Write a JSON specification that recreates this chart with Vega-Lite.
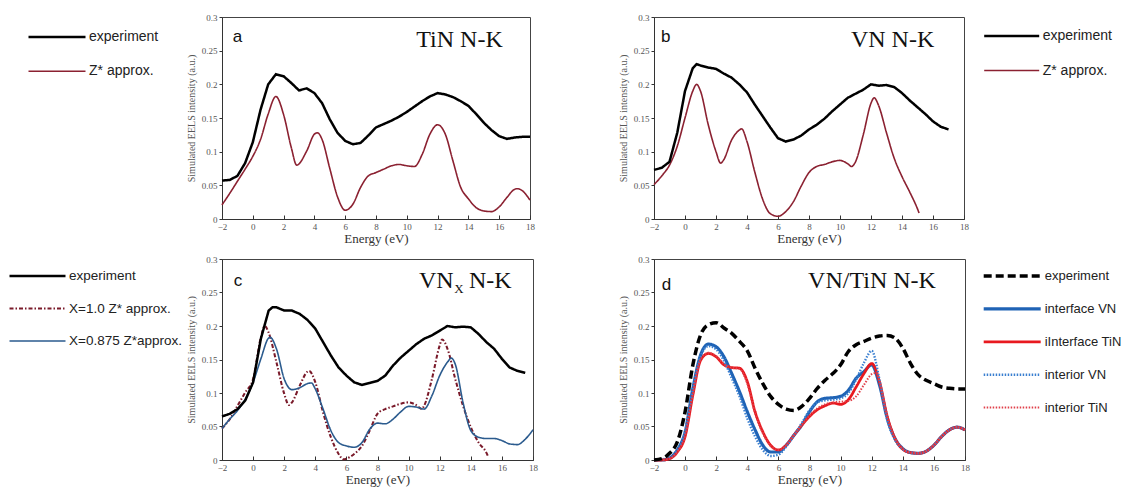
{
  "$schema": "https://vega.github.io/schema/vega-lite/v6.json",
  "background": "white",
  "autosize": {"type": "pad"},
  "padding": {"left": 7, "top": 12, "right": 0, "bottom": 0},
  "columns": 2,
  "bounds": "flush",
  "spacing": {"row": 40, "column": 121},
  "resolve": {"scale": {"color": "independent", "strokeDash": "independent", "strokeWidth": "independent"}},
  "config": {
    "view": {"stroke": "#444", "strokeWidth": 1},
    "axis": {"grid": false, "labelFont": "Liberation Serif", "labelFontSize": 9, "labelColor": "#555", "domainColor": "#333", "tickColor": "#333", "titleFont": "Liberation Serif", "titleFontWeight": "normal", "labelFlush": false, "labelOverlap": false},
    "axisX": {"tickSize": -4, "labelPadding": 7, "titleFontSize": 13, "titleColor": "#333", "titlePadding": 1},
    "axisY": {"tickSize": 3, "labelPadding": 2, "titleFontSize": 10, "titleColor": "#555", "titlePadding": 5},
    "legend": {"symbolType": "stroke", "clipHeight": 20, "labelOffset": 2, "labelFont": "Liberation Sans", "labelColor": "#222", "padding": 0, "labelLimit": 250}
  },
  "datasets": {
    "a": [
      {"e":-2,"v":0.057,"s":"experiment"},{"e":-1.5,"v":0.058,"s":"experiment"},{"e":-1,"v":0.064,"s":"experiment"},{"e":-0.5,"v":0.083,"s":"experiment"},{"e":0,"v":0.114,"s":"experiment"},{"e":0.5,"v":0.162,"s":"experiment"},{"e":1,"v":0.2,"s":"experiment"},{"e":1.5,"v":0.215,"s":"experiment"},{"e":2,"v":0.212,"s":"experiment"},{"e":2.5,"v":0.202,"s":"experiment"},{"e":3,"v":0.191,"s":"experiment"},{"e":3.5,"v":0.194,"s":"experiment"},{"e":4,"v":0.187,"s":"experiment"},{"e":4.5,"v":0.172,"s":"experiment"},{"e":5,"v":0.148,"s":"experiment"},{"e":5.5,"v":0.128,"s":"experiment"},{"e":6,"v":0.116,"s":"experiment"},{"e":6.5,"v":0.111,"s":"experiment"},{"e":7,"v":0.113,"s":"experiment"},{"e":7.5,"v":0.124,"s":"experiment"},{"e":8,"v":0.136,"s":"experiment"},{"e":8.5,"v":0.141,"s":"experiment"},{"e":9,"v":0.146,"s":"experiment"},{"e":9.5,"v":0.152,"s":"experiment"},{"e":10,"v":0.159,"s":"experiment"},{"e":10.5,"v":0.167,"s":"experiment"},{"e":11,"v":0.175,"s":"experiment"},{"e":11.5,"v":0.182,"s":"experiment"},{"e":12,"v":0.187,"s":"experiment"},{"e":12.5,"v":0.185,"s":"experiment"},{"e":13,"v":0.181,"s":"experiment"},{"e":13.5,"v":0.175,"s":"experiment"},{"e":14,"v":0.168,"s":"experiment"},{"e":14.5,"v":0.156,"s":"experiment"},{"e":15,"v":0.143,"s":"experiment"},{"e":15.5,"v":0.132,"s":"experiment"},{"e":16,"v":0.123,"s":"experiment"},{"e":16.5,"v":0.119,"s":"experiment"},{"e":17,"v":0.121,"s":"experiment"},{"e":17.5,"v":0.122,"s":"experiment"},{"e":18,"v":0.122,"s":"experiment"},
      {"e":-2,"v":0.021,"s":"Z* approx."},{"e":-1.5,"v":0.038,"s":"Z* approx."},{"e":-1,"v":0.056,"s":"Z* approx."},{"e":-0.5,"v":0.074,"s":"Z* approx."},{"e":0,"v":0.093,"s":"Z* approx."},{"e":0.5,"v":0.118,"s":"Z* approx."},{"e":1,"v":0.156,"s":"Z* approx."},{"e":1.5,"v":0.182,"s":"Z* approx."},{"e":2,"v":0.155,"s":"Z* approx."},{"e":2.5,"v":0.106,"s":"Z* approx."},{"e":2.85,"v":0.08,"s":"Z* approx."},{"e":3.5,"v":0.101,"s":"Z* approx."},{"e":4,"v":0.126,"s":"Z* approx."},{"e":4.2,"v":0.128,"s":"Z* approx."},{"e":4.5,"v":0.118,"s":"Z* approx."},{"e":5,"v":0.075,"s":"Z* approx."},{"e":5.5,"v":0.033,"s":"Z* approx."},{"e":6,"v":0.013,"s":"Z* approx."},{"e":6.5,"v":0.022,"s":"Z* approx."},{"e":7,"v":0.047,"s":"Z* approx."},{"e":7.5,"v":0.064,"s":"Z* approx."},{"e":8,"v":0.069,"s":"Z* approx."},{"e":8.5,"v":0.074,"s":"Z* approx."},{"e":9,"v":0.079,"s":"Z* approx."},{"e":9.5,"v":0.081,"s":"Z* approx."},{"e":10,"v":0.079,"s":"Z* approx."},{"e":10.5,"v":0.078,"s":"Z* approx."},{"e":11,"v":0.096,"s":"Z* approx."},{"e":11.5,"v":0.126,"s":"Z* approx."},{"e":12,"v":0.14,"s":"Z* approx."},{"e":12.5,"v":0.126,"s":"Z* approx."},{"e":13,"v":0.086,"s":"Z* approx."},{"e":13.5,"v":0.047,"s":"Z* approx."},{"e":14,"v":0.03,"s":"Z* approx."},{"e":14.5,"v":0.017,"s":"Z* approx."},{"e":15,"v":0.012,"s":"Z* approx."},{"e":15.5,"v":0.011,"s":"Z* approx."},{"e":16,"v":0.018,"s":"Z* approx."},{"e":16.5,"v":0.032,"s":"Z* approx."},{"e":17,"v":0.044,"s":"Z* approx."},{"e":17.2,"v":0.045,"s":"Z* approx."},{"e":17.5,"v":0.042,"s":"Z* approx."},{"e":18,"v":0.028,"s":"Z* approx."}
    ],
    "b": [
      {"e":-2,"v":0.073,"s":"experiment"},{"e":-1.5,"v":0.076,"s":"experiment"},{"e":-1,"v":0.085,"s":"experiment"},{"e":-0.5,"v":0.128,"s":"experiment"},{"e":0,"v":0.19,"s":"experiment"},{"e":0.5,"v":0.224,"s":"experiment"},{"e":0.75,"v":0.23,"s":"experiment"},{"e":1,"v":0.228,"s":"experiment"},{"e":1.5,"v":0.225,"s":"experiment"},{"e":2,"v":0.223,"s":"experiment"},{"e":2.5,"v":0.216,"s":"experiment"},{"e":3,"v":0.21,"s":"experiment"},{"e":3.5,"v":0.2,"s":"experiment"},{"e":4,"v":0.188,"s":"experiment"},{"e":4.5,"v":0.17,"s":"experiment"},{"e":5,"v":0.153,"s":"experiment"},{"e":5.5,"v":0.136,"s":"experiment"},{"e":6,"v":0.12,"s":"experiment"},{"e":6.5,"v":0.115,"s":"experiment"},{"e":7,"v":0.118,"s":"experiment"},{"e":7.5,"v":0.124,"s":"experiment"},{"e":8,"v":0.133,"s":"experiment"},{"e":8.5,"v":0.14,"s":"experiment"},{"e":9,"v":0.149,"s":"experiment"},{"e":9.5,"v":0.16,"s":"experiment"},{"e":10,"v":0.17,"s":"experiment"},{"e":10.5,"v":0.18,"s":"experiment"},{"e":11,"v":0.186,"s":"experiment"},{"e":11.5,"v":0.192,"s":"experiment"},{"e":12,"v":0.2,"s":"experiment"},{"e":12.5,"v":0.198,"s":"experiment"},{"e":13,"v":0.199,"s":"experiment"},{"e":13.5,"v":0.196,"s":"experiment"},{"e":14,"v":0.187,"s":"experiment"},{"e":14.5,"v":0.176,"s":"experiment"},{"e":15,"v":0.166,"s":"experiment"},{"e":15.5,"v":0.156,"s":"experiment"},{"e":16,"v":0.145,"s":"experiment"},{"e":16.5,"v":0.137,"s":"experiment"},{"e":17,"v":0.133,"s":"experiment"},
      {"e":-2,"v":0.051,"s":"Z* approx."},{"e":-1.5,"v":0.064,"s":"Z* approx."},{"e":-1,"v":0.08,"s":"Z* approx."},{"e":-0.5,"v":0.108,"s":"Z* approx."},{"e":0,"v":0.15,"s":"Z* approx."},{"e":0.5,"v":0.19,"s":"Z* approx."},{"e":0.75,"v":0.2,"s":"Z* approx."},{"e":1,"v":0.19,"s":"Z* approx."},{"e":1.5,"v":0.14,"s":"Z* approx."},{"e":2,"v":0.1,"s":"Z* approx."},{"e":2.3,"v":0.083,"s":"Z* approx."},{"e":2.5,"v":0.088,"s":"Z* approx."},{"e":3,"v":0.117,"s":"Z* approx."},{"e":3.5,"v":0.132,"s":"Z* approx."},{"e":3.65,"v":0.134,"s":"Z* approx."},{"e":4,"v":0.115,"s":"Z* approx."},{"e":4.5,"v":0.07,"s":"Z* approx."},{"e":5,"v":0.03,"s":"Z* approx."},{"e":5.5,"v":0.008,"s":"Z* approx."},{"e":6,"v":0.004,"s":"Z* approx."},{"e":6.5,"v":0.011,"s":"Z* approx."},{"e":7,"v":0.026,"s":"Z* approx."},{"e":7.5,"v":0.049,"s":"Z* approx."},{"e":8,"v":0.069,"s":"Z* approx."},{"e":8.5,"v":0.078,"s":"Z* approx."},{"e":9,"v":0.081,"s":"Z* approx."},{"e":9.5,"v":0.085,"s":"Z* approx."},{"e":10,"v":0.087,"s":"Z* approx."},{"e":10.5,"v":0.082,"s":"Z* approx."},{"e":10.75,"v":0.078,"s":"Z* approx."},{"e":11,"v":0.085,"s":"Z* approx."},{"e":11.5,"v":0.125,"s":"Z* approx."},{"e":12,"v":0.172,"s":"Z* approx."},{"e":12.2,"v":0.18,"s":"Z* approx."},{"e":12.5,"v":0.168,"s":"Z* approx."},{"e":13,"v":0.128,"s":"Z* approx."},{"e":13.5,"v":0.09,"s":"Z* approx."},{"e":14,"v":0.063,"s":"Z* approx."},{"e":14.5,"v":0.04,"s":"Z* approx."},{"e":15,"v":0.015,"s":"Z* approx."},{"e":15.1,"v":0.009,"s":"Z* approx."}
    ],
    "c": [
      {"e":-2,"v":0.065,"s":"experiment"},{"e":-1.5,"v":0.069,"s":"experiment"},{"e":-1,"v":0.076,"s":"experiment"},{"e":-0.5,"v":0.089,"s":"experiment"},{"e":0,"v":0.116,"s":"experiment"},{"e":0.5,"v":0.181,"s":"experiment"},{"e":1,"v":0.223,"s":"experiment"},{"e":1.25,"v":0.228,"s":"experiment"},{"e":1.5,"v":0.228,"s":"experiment"},{"e":2,"v":0.223,"s":"experiment"},{"e":2.5,"v":0.223,"s":"experiment"},{"e":3,"v":0.218,"s":"experiment"},{"e":3.5,"v":0.209,"s":"experiment"},{"e":4,"v":0.196,"s":"experiment"},{"e":4.5,"v":0.176,"s":"experiment"},{"e":5,"v":0.156,"s":"experiment"},{"e":5.5,"v":0.138,"s":"experiment"},{"e":6,"v":0.126,"s":"experiment"},{"e":6.5,"v":0.116,"s":"experiment"},{"e":7,"v":0.112,"s":"experiment"},{"e":7.5,"v":0.115,"s":"experiment"},{"e":8,"v":0.118,"s":"experiment"},{"e":8.5,"v":0.126,"s":"experiment"},{"e":9,"v":0.141,"s":"experiment"},{"e":9.5,"v":0.153,"s":"experiment"},{"e":10,"v":0.163,"s":"experiment"},{"e":10.5,"v":0.173,"s":"experiment"},{"e":11,"v":0.181,"s":"experiment"},{"e":11.5,"v":0.186,"s":"experiment"},{"e":12,"v":0.193,"s":"experiment"},{"e":12.5,"v":0.2,"s":"experiment"},{"e":13,"v":0.198,"s":"experiment"},{"e":13.5,"v":0.199,"s":"experiment"},{"e":14,"v":0.198,"s":"experiment"},{"e":14.5,"v":0.188,"s":"experiment"},{"e":15,"v":0.176,"s":"experiment"},{"e":15.5,"v":0.166,"s":"experiment"},{"e":16,"v":0.151,"s":"experiment"},{"e":16.5,"v":0.138,"s":"experiment"},{"e":17,"v":0.133,"s":"experiment"},{"e":17.5,"v":0.13,"s":"experiment"},
      {"e":-2,"v":0.047,"s":"X=1.0 Z* approx."},{"e":-1.5,"v":0.061,"s":"X=1.0 Z* approx."},{"e":-1,"v":0.081,"s":"X=1.0 Z* approx."},{"e":-0.5,"v":0.101,"s":"X=1.0 Z* approx."},{"e":0,"v":0.121,"s":"X=1.0 Z* approx."},{"e":0.5,"v":0.183,"s":"X=1.0 Z* approx."},{"e":0.75,"v":0.2,"s":"X=1.0 Z* approx."},{"e":1,"v":0.19,"s":"X=1.0 Z* approx."},{"e":1.5,"v":0.146,"s":"X=1.0 Z* approx."},{"e":2,"v":0.099,"s":"X=1.0 Z* approx."},{"e":2.3,"v":0.082,"s":"X=1.0 Z* approx."},{"e":2.5,"v":0.086,"s":"X=1.0 Z* approx."},{"e":3,"v":0.111,"s":"X=1.0 Z* approx."},{"e":3.5,"v":0.132,"s":"X=1.0 Z* approx."},{"e":3.6,"v":0.133,"s":"X=1.0 Z* approx."},{"e":4,"v":0.116,"s":"X=1.0 Z* approx."},{"e":4.5,"v":0.071,"s":"X=1.0 Z* approx."},{"e":5,"v":0.034,"s":"X=1.0 Z* approx."},{"e":5.5,"v":0.009,"s":"X=1.0 Z* approx."},{"e":5.8,"v":0.001,"s":"X=1.0 Z* approx."},{"e":6,"v":0.002,"s":"X=1.0 Z* approx."},{"e":6.5,"v":0.009,"s":"X=1.0 Z* approx."},{"e":7,"v":0.021,"s":"X=1.0 Z* approx."},{"e":7.5,"v":0.044,"s":"X=1.0 Z* approx."},{"e":8,"v":0.069,"s":"X=1.0 Z* approx."},{"e":8.5,"v":0.076,"s":"X=1.0 Z* approx."},{"e":9,"v":0.08,"s":"X=1.0 Z* approx."},{"e":9.5,"v":0.084,"s":"X=1.0 Z* approx."},{"e":10,"v":0.086,"s":"X=1.0 Z* approx."},{"e":10.5,"v":0.082,"s":"X=1.0 Z* approx."},{"e":10.85,"v":0.076,"s":"X=1.0 Z* approx."},{"e":11,"v":0.081,"s":"X=1.0 Z* approx."},{"e":11.5,"v":0.121,"s":"X=1.0 Z* approx."},{"e":12,"v":0.171,"s":"X=1.0 Z* approx."},{"e":12.15,"v":0.18,"s":"X=1.0 Z* approx."},{"e":12.5,"v":0.166,"s":"X=1.0 Z* approx."},{"e":13,"v":0.121,"s":"X=1.0 Z* approx."},{"e":13.5,"v":0.081,"s":"X=1.0 Z* approx."},{"e":14,"v":0.049,"s":"X=1.0 Z* approx."},{"e":14.5,"v":0.026,"s":"X=1.0 Z* approx."},{"e":15,"v":0.011,"s":"X=1.0 Z* approx."},{"e":15.1,"v":0.006,"s":"X=1.0 Z* approx."},
      {"e":-2,"v":0.047,"s":"X=0.875 Z*approx."},{"e":-1.5,"v":0.061,"s":"X=0.875 Z*approx."},{"e":-1,"v":0.074,"s":"X=0.875 Z*approx."},{"e":-0.5,"v":0.091,"s":"X=0.875 Z*approx."},{"e":0,"v":0.116,"s":"X=0.875 Z*approx."},{"e":0.5,"v":0.151,"s":"X=0.875 Z*approx."},{"e":1,"v":0.182,"s":"X=0.875 Z*approx."},{"e":1.1,"v":0.183,"s":"X=0.875 Z*approx."},{"e":1.5,"v":0.166,"s":"X=0.875 Z*approx."},{"e":2,"v":0.121,"s":"X=0.875 Z*approx."},{"e":2.5,"v":0.105,"s":"X=0.875 Z*approx."},{"e":3,"v":0.108,"s":"X=0.875 Z*approx."},{"e":3.5,"v":0.114,"s":"X=0.875 Z*approx."},{"e":3.75,"v":0.115,"s":"X=0.875 Z*approx."},{"e":4,"v":0.106,"s":"X=0.875 Z*approx."},{"e":4.5,"v":0.076,"s":"X=0.875 Z*approx."},{"e":5,"v":0.044,"s":"X=0.875 Z*approx."},{"e":5.5,"v":0.026,"s":"X=0.875 Z*approx."},{"e":6,"v":0.021,"s":"X=0.875 Z*approx."},{"e":6.5,"v":0.019,"s":"X=0.875 Z*approx."},{"e":7,"v":0.026,"s":"X=0.875 Z*approx."},{"e":7.5,"v":0.046,"s":"X=0.875 Z*approx."},{"e":8,"v":0.055,"s":"X=0.875 Z*approx."},{"e":8.5,"v":0.054,"s":"X=0.875 Z*approx."},{"e":9,"v":0.061,"s":"X=0.875 Z*approx."},{"e":9.5,"v":0.072,"s":"X=0.875 Z*approx."},{"e":10,"v":0.08,"s":"X=0.875 Z*approx."},{"e":10.5,"v":0.079,"s":"X=0.875 Z*approx."},{"e":11,"v":0.076,"s":"X=0.875 Z*approx."},{"e":11.5,"v":0.096,"s":"X=0.875 Z*approx."},{"e":12,"v":0.126,"s":"X=0.875 Z*approx."},{"e":12.5,"v":0.146,"s":"X=0.875 Z*approx."},{"e":12.75,"v":0.152,"s":"X=0.875 Z*approx."},{"e":13,"v":0.143,"s":"X=0.875 Z*approx."},{"e":13.5,"v":0.086,"s":"X=0.875 Z*approx."},{"e":14,"v":0.044,"s":"X=0.875 Z*approx."},{"e":14.5,"v":0.034,"s":"X=0.875 Z*approx."},{"e":15,"v":0.032,"s":"X=0.875 Z*approx."},{"e":15.5,"v":0.032,"s":"X=0.875 Z*approx."},{"e":16,"v":0.029,"s":"X=0.875 Z*approx."},{"e":16.5,"v":0.024,"s":"X=0.875 Z*approx."},{"e":17,"v":0.023,"s":"X=0.875 Z*approx."},{"e":17.5,"v":0.031,"s":"X=0.875 Z*approx."},{"e":18,"v":0.045,"s":"X=0.875 Z*approx."}
    ],
    "d": [
      {"e":-2,"v":0.0,"s":"experiment"},{"e":-1.5,"v":0.002,"s":"experiment"},{"e":-1,"v":0.01,"s":"experiment"},{"e":-0.5,"v":0.027,"s":"experiment"},{"e":0,"v":0.072,"s":"experiment"},{"e":0.5,"v":0.142,"s":"experiment"},{"e":1,"v":0.187,"s":"experiment"},{"e":1.5,"v":0.202,"s":"experiment"},{"e":2,"v":0.205,"s":"experiment"},{"e":2.5,"v":0.197,"s":"experiment"},{"e":3,"v":0.189,"s":"experiment"},{"e":3.5,"v":0.177,"s":"experiment"},{"e":4,"v":0.163,"s":"experiment"},{"e":4.5,"v":0.137,"s":"experiment"},{"e":5,"v":0.114,"s":"experiment"},{"e":5.5,"v":0.095,"s":"experiment"},{"e":6,"v":0.083,"s":"experiment"},{"e":6.5,"v":0.076,"s":"experiment"},{"e":7,"v":0.074,"s":"experiment"},{"e":7.5,"v":0.08,"s":"experiment"},{"e":8,"v":0.092,"s":"experiment"},{"e":8.5,"v":0.107,"s":"experiment"},{"e":9,"v":0.119,"s":"experiment"},{"e":9.5,"v":0.129,"s":"experiment"},{"e":10,"v":0.142,"s":"experiment"},{"e":10.5,"v":0.162,"s":"experiment"},{"e":11,"v":0.172,"s":"experiment"},{"e":11.5,"v":0.177,"s":"experiment"},{"e":12,"v":0.182,"s":"experiment"},{"e":12.5,"v":0.185,"s":"experiment"},{"e":13,"v":0.186,"s":"experiment"},{"e":13.5,"v":0.182,"s":"experiment"},{"e":14,"v":0.167,"s":"experiment"},{"e":14.5,"v":0.144,"s":"experiment"},{"e":15,"v":0.127,"s":"experiment"},{"e":15.5,"v":0.119,"s":"experiment"},{"e":16,"v":0.114,"s":"experiment"},{"e":16.5,"v":0.109,"s":"experiment"},{"e":17,"v":0.107,"s":"experiment"},{"e":17.5,"v":0.106,"s":"experiment"},{"e":18,"v":0.106,"s":"experiment"},
      {"e":-2,"v":0.0,"s":"interface VN"},{"e":-1.5,"v":0.0,"s":"interface VN"},{"e":-1,"v":0.003,"s":"interface VN"},{"e":-0.5,"v":0.015,"s":"interface VN"},{"e":0,"v":0.042,"s":"interface VN"},{"e":0.5,"v":0.107,"s":"interface VN"},{"e":1,"v":0.157,"s":"interface VN"},{"e":1.5,"v":0.173,"s":"interface VN"},{"e":2,"v":0.169,"s":"interface VN"},{"e":2.5,"v":0.154,"s":"interface VN"},{"e":3,"v":0.129,"s":"interface VN"},{"e":3.5,"v":0.102,"s":"interface VN"},{"e":4,"v":0.072,"s":"interface VN"},{"e":4.5,"v":0.045,"s":"interface VN"},{"e":5,"v":0.022,"s":"interface VN"},{"e":5.5,"v":0.012,"s":"interface VN"},{"e":6,"v":0.012,"s":"interface VN"},{"e":6.5,"v":0.022,"s":"interface VN"},{"e":7,"v":0.037,"s":"interface VN"},{"e":7.5,"v":0.052,"s":"interface VN"},{"e":8,"v":0.072,"s":"interface VN"},{"e":8.5,"v":0.087,"s":"interface VN"},{"e":9,"v":0.092,"s":"interface VN"},{"e":9.5,"v":0.093,"s":"interface VN"},{"e":10,"v":0.095,"s":"interface VN"},{"e":10.5,"v":0.104,"s":"interface VN"},{"e":11,"v":0.122,"s":"interface VN"},{"e":11.5,"v":0.132,"s":"interface VN"},{"e":12,"v":0.142,"s":"interface VN"},{"e":12.5,"v":0.112,"s":"interface VN"},{"e":13,"v":0.062,"s":"interface VN"},{"e":13.5,"v":0.032,"s":"interface VN"},{"e":14,"v":0.017,"s":"interface VN"},{"e":14.5,"v":0.011,"s":"interface VN"},{"e":15,"v":0.01,"s":"interface VN"},{"e":15.5,"v":0.013,"s":"interface VN"},{"e":16,"v":0.022,"s":"interface VN"},{"e":16.5,"v":0.035,"s":"interface VN"},{"e":17,"v":0.045,"s":"interface VN"},{"e":17.5,"v":0.049,"s":"interface VN"},{"e":18,"v":0.045,"s":"interface VN"},
      {"e":-2,"v":0.0,"s":"iInterface TiN"},{"e":-1.5,"v":0.0,"s":"iInterface TiN"},{"e":-1,"v":0.002,"s":"iInterface TiN"},{"e":-0.5,"v":0.012,"s":"iInterface TiN"},{"e":0,"v":0.035,"s":"iInterface TiN"},{"e":0.5,"v":0.097,"s":"iInterface TiN"},{"e":1,"v":0.149,"s":"iInterface TiN"},{"e":1.5,"v":0.159,"s":"iInterface TiN"},{"e":2,"v":0.154,"s":"iInterface TiN"},{"e":2.5,"v":0.142,"s":"iInterface TiN"},{"e":3,"v":0.138,"s":"iInterface TiN"},{"e":3.5,"v":0.137,"s":"iInterface TiN"},{"e":4,"v":0.117,"s":"iInterface TiN"},{"e":4.5,"v":0.072,"s":"iInterface TiN"},{"e":5,"v":0.042,"s":"iInterface TiN"},{"e":5.5,"v":0.022,"s":"iInterface TiN"},{"e":6,"v":0.015,"s":"iInterface TiN"},{"e":6.5,"v":0.022,"s":"iInterface TiN"},{"e":7,"v":0.037,"s":"iInterface TiN"},{"e":7.5,"v":0.052,"s":"iInterface TiN"},{"e":8,"v":0.065,"s":"iInterface TiN"},{"e":8.5,"v":0.075,"s":"iInterface TiN"},{"e":9,"v":0.081,"s":"iInterface TiN"},{"e":9.5,"v":0.085,"s":"iInterface TiN"},{"e":10,"v":0.083,"s":"iInterface TiN"},{"e":10.5,"v":0.09,"s":"iInterface TiN"},{"e":11,"v":0.109,"s":"iInterface TiN"},{"e":11.5,"v":0.129,"s":"iInterface TiN"},{"e":12,"v":0.144,"s":"iInterface TiN"},{"e":12.5,"v":0.117,"s":"iInterface TiN"},{"e":13,"v":0.065,"s":"iInterface TiN"},{"e":13.5,"v":0.032,"s":"iInterface TiN"},{"e":14,"v":0.016,"s":"iInterface TiN"},{"e":14.5,"v":0.011,"s":"iInterface TiN"},{"e":15,"v":0.01,"s":"iInterface TiN"},{"e":15.5,"v":0.013,"s":"iInterface TiN"},{"e":16,"v":0.022,"s":"iInterface TiN"},{"e":16.5,"v":0.035,"s":"iInterface TiN"},{"e":17,"v":0.045,"s":"iInterface TiN"},{"e":17.5,"v":0.049,"s":"iInterface TiN"},{"e":18,"v":0.045,"s":"iInterface TiN"},
      {"e":-2,"v":0.0,"s":"interior VN"},{"e":-1,"v":0.003,"s":"interior VN"},{"e":-0.5,"v":0.015,"s":"interior VN"},{"e":0,"v":0.042,"s":"interior VN"},{"e":0.5,"v":0.105,"s":"interior VN"},{"e":1,"v":0.155,"s":"interior VN"},{"e":1.5,"v":0.17,"s":"interior VN"},{"e":2,"v":0.165,"s":"interior VN"},{"e":2.5,"v":0.148,"s":"interior VN"},{"e":3,"v":0.122,"s":"interior VN"},{"e":3.5,"v":0.095,"s":"interior VN"},{"e":4,"v":0.062,"s":"interior VN"},{"e":4.5,"v":0.035,"s":"interior VN"},{"e":5,"v":0.015,"s":"interior VN"},{"e":5.5,"v":0.006,"s":"interior VN"},{"e":6,"v":0.008,"s":"interior VN"},{"e":6.5,"v":0.02,"s":"interior VN"},{"e":7,"v":0.037,"s":"interior VN"},{"e":7.5,"v":0.055,"s":"interior VN"},{"e":8,"v":0.074,"s":"interior VN"},{"e":8.5,"v":0.086,"s":"interior VN"},{"e":9,"v":0.089,"s":"interior VN"},{"e":9.5,"v":0.09,"s":"interior VN"},{"e":10,"v":0.092,"s":"interior VN"},{"e":10.5,"v":0.1,"s":"interior VN"},{"e":11,"v":0.12,"s":"interior VN"},{"e":11.5,"v":0.145,"s":"interior VN"},{"e":12,"v":0.163,"s":"interior VN"},{"e":12.5,"v":0.12,"s":"interior VN"},{"e":13,"v":0.06,"s":"interior VN"},{"e":13.5,"v":0.03,"s":"interior VN"},{"e":14,"v":0.016,"s":"interior VN"},{"e":14.5,"v":0.011,"s":"interior VN"},{"e":15,"v":0.01,"s":"interior VN"},{"e":15.5,"v":0.013,"s":"interior VN"},{"e":16,"v":0.022,"s":"interior VN"},{"e":16.5,"v":0.035,"s":"interior VN"},{"e":17,"v":0.045,"s":"interior VN"},{"e":17.5,"v":0.049,"s":"interior VN"},{"e":18,"v":0.045,"s":"interior VN"},
      {"e":-2,"v":0.0,"s":"interior TiN"},{"e":-1,"v":0.002,"s":"interior TiN"},{"e":-0.5,"v":0.012,"s":"interior TiN"},{"e":0,"v":0.036,"s":"interior TiN"},{"e":0.5,"v":0.098,"s":"interior TiN"},{"e":1,"v":0.15,"s":"interior TiN"},{"e":1.5,"v":0.16,"s":"interior TiN"},{"e":2,"v":0.155,"s":"interior TiN"},{"e":2.5,"v":0.143,"s":"interior TiN"},{"e":3,"v":0.138,"s":"interior TiN"},{"e":3.5,"v":0.136,"s":"interior TiN"},{"e":4,"v":0.114,"s":"interior TiN"},{"e":4.5,"v":0.07,"s":"interior TiN"},{"e":5,"v":0.04,"s":"interior TiN"},{"e":5.5,"v":0.021,"s":"interior TiN"},{"e":6,"v":0.015,"s":"interior TiN"},{"e":6.5,"v":0.022,"s":"interior TiN"},{"e":7,"v":0.037,"s":"interior TiN"},{"e":7.5,"v":0.052,"s":"interior TiN"},{"e":8,"v":0.066,"s":"interior TiN"},{"e":8.5,"v":0.077,"s":"interior TiN"},{"e":9,"v":0.083,"s":"interior TiN"},{"e":9.5,"v":0.086,"s":"interior TiN"},{"e":10,"v":0.087,"s":"interior TiN"},{"e":10.5,"v":0.088,"s":"interior TiN"},{"e":11,"v":0.095,"s":"interior TiN"},{"e":11.5,"v":0.112,"s":"interior TiN"},{"e":12,"v":0.128,"s":"interior TiN"},{"e":12.3,"v":0.13,"s":"interior TiN"},{"e":12.5,"v":0.118,"s":"interior TiN"},{"e":13,"v":0.066,"s":"interior TiN"},{"e":13.5,"v":0.033,"s":"interior TiN"},{"e":14,"v":0.016,"s":"interior TiN"},{"e":14.5,"v":0.011,"s":"interior TiN"},{"e":15,"v":0.01,"s":"interior TiN"},{"e":15.5,"v":0.013,"s":"interior TiN"},{"e":16,"v":0.022,"s":"interior TiN"},{"e":16.5,"v":0.035,"s":"interior TiN"},{"e":17,"v":0.045,"s":"interior TiN"},{"e":17.5,"v":0.049,"s":"interior TiN"},{"e":18,"v":0.045,"s":"interior TiN"}
    ]
  },
  "concat": [
    {
      "width": 308, "height": 202,
      "layer": [
        {
          "data": {"name": "a"},
          "transform": [{"filter": "datum.s !== 'experiment'"}],
          "mark": {"type": "line", "interpolate": "monotone"},
          "encoding": {
            "x": {"field": "e", "type": "quantitative", "title": "Energy (eV)", "scale": {"domain": [-2, 18], "nice": false, "zero": false}, "axis": {"values": [-2,0,2,4,6,8,10,12,14,16,18], "format": "d"}},
            "y": {"field": "v", "type": "quantitative", "title": "Simulated EELS intensity (a.u.)", "scale": {"domain": [0, 0.3], "nice": false}, "axis": {"values": [0,0.05,0.1,0.15,0.2,0.25,0.3], "format": "~g"}},
            "color": {"field": "s", "type": "nominal", "scale": {"domain": ["experiment", "Z* approx."], "range": ["#000000", "#8b2131"]}, "legend": {"title": null, "orient": "none", "legendX": -195, "legendY": 10, "rowPadding": 14.3, "labelFontSize": 14, "symbolSize": 3249}},
            "strokeDash": {"field": "s", "type": "nominal", "scale": {"domain": ["experiment", "Z* approx."], "range": [[1,0],[1,0]]}, "legend": {"title": null, "orient": "none", "legendX": -195, "legendY": 10, "rowPadding": 14.3, "labelFontSize": 14, "symbolSize": 3249}},
            "strokeWidth": {"field": "s", "type": "nominal", "scale": {"domain": ["experiment", "Z* approx."], "range": [2.5, 1.6]}, "legend": {"title": null, "orient": "none", "legendX": -195, "legendY": 10, "rowPadding": 14.3, "labelFontSize": 14, "symbolSize": 3249}}
          }
        },
        {
          "data": {"name": "a"},
          "transform": [{"filter": "datum.s === 'experiment'"}],
          "mark": {"type": "line", "interpolate": "linear"},
          "encoding": {
            "x": {"field": "e", "type": "quantitative", "title": "Energy (eV)", "scale": {"domain": [-2, 18], "nice": false, "zero": false}, "axis": {"values": [-2,0,2,4,6,8,10,12,14,16,18], "format": "d"}},
            "y": {"field": "v", "type": "quantitative", "title": "Simulated EELS intensity (a.u.)", "scale": {"domain": [0, 0.3], "nice": false}, "axis": {"values": [0,0.05,0.1,0.15,0.2,0.25,0.3], "format": "~g"}},
            "color": {"field": "s", "type": "nominal", "scale": {"domain": ["experiment", "Z* approx."], "range": ["#000000", "#8b2131"]}, "legend": {"title": null, "orient": "none", "legendX": -195, "legendY": 10, "rowPadding": 14.3, "labelFontSize": 14, "symbolSize": 3249}},
            "strokeDash": {"field": "s", "type": "nominal", "scale": {"domain": ["experiment", "Z* approx."], "range": [[1,0],[1,0]]}, "legend": {"title": null, "orient": "none", "legendX": -195, "legendY": 10, "rowPadding": 14.3, "labelFontSize": 14, "symbolSize": 3249}},
            "strokeWidth": {"field": "s", "type": "nominal", "scale": {"domain": ["experiment", "Z* approx."], "range": [2.5, 1.6]}, "legend": {"title": null, "orient": "none", "legendX": -195, "legendY": 10, "rowPadding": 14.3, "labelFontSize": 14, "symbolSize": 3249}}
          }
        },
        {
          "data": {"values": [{"t": "a"}]},
          "mark": {"type": "text", "font": "Liberation Sans", "fontSize": 17, "align": "left", "baseline": "alphabetic", "color": "#111"},
          "encoding": {
            "x": {"datum": -1.3, "type": "quantitative", "title": "Energy (eV)", "axis": {"values": [-2,0,2,4,6,8,10,12,14,16,18], "format": "d"}},
            "y": {"datum": 0.263, "type": "quantitative", "title": "Simulated EELS intensity (a.u.)", "axis": {"values": [0,0.05,0.1,0.15,0.2,0.25,0.3], "format": "~g"}},
            "text": {"field": "t"}
          }
        },
        {
          "data": {"values": [{"t": "TiN N-K"}]},
          "mark": {"type": "text", "font": "Liberation Serif", "fontSize": 24, "align": "right", "baseline": "alphabetic", "color": "#111"},
          "encoding": {
            "x": {"datum": 16.23, "type": "quantitative", "title": "Energy (eV)", "axis": {"values": [-2,0,2,4,6,8,10,12,14,16,18], "format": "d"}},
            "y": {"datum": 0.256, "type": "quantitative", "title": "Simulated EELS intensity (a.u.)", "axis": {"values": [0,0.05,0.1,0.15,0.2,0.25,0.3], "format": "~g"}},
            "text": {"field": "t"}
          }
        }
      ]
    },
    {
      "width": 310, "height": 202,
      "layer": [
        {
          "data": {"name": "b"},
          "transform": [{"filter": "datum.s !== 'experiment'"}],
          "mark": {"type": "line", "interpolate": "monotone"},
          "encoding": {
            "x": {"field": "e", "type": "quantitative", "title": "Energy (eV)", "scale": {"domain": [-2, 18], "nice": false, "zero": false}, "axis": {"values": [-2,0,2,4,6,8,10,12,14,16,18], "format": "d"}},
            "y": {"field": "v", "type": "quantitative", "title": "Simulated EELS intensity (a.u.)", "scale": {"domain": [0, 0.3], "nice": false}, "axis": {"values": [0,0.05,0.1,0.15,0.2,0.25,0.3], "format": "~g"}},
            "color": {"field": "s", "type": "nominal", "scale": {"domain": ["experiment", "Z* approx."], "range": ["#000000", "#8b2131"]}, "legend": {"title": null, "orient": "none", "legendX": 328.7, "legendY": 9, "rowPadding": 14.5, "labelFontSize": 14, "symbolSize": 3025}},
            "strokeDash": {"field": "s", "type": "nominal", "scale": {"domain": ["experiment", "Z* approx."], "range": [[1,0],[1,0]]}, "legend": {"title": null, "orient": "none", "legendX": 328.7, "legendY": 9, "rowPadding": 14.5, "labelFontSize": 14, "symbolSize": 3025}},
            "strokeWidth": {"field": "s", "type": "nominal", "scale": {"domain": ["experiment", "Z* approx."], "range": [2.5, 1.6]}, "legend": {"title": null, "orient": "none", "legendX": 328.7, "legendY": 9, "rowPadding": 14.5, "labelFontSize": 14, "symbolSize": 3025}}
          }
        },
        {
          "data": {"name": "b"},
          "transform": [{"filter": "datum.s === 'experiment'"}],
          "mark": {"type": "line", "interpolate": "linear"},
          "encoding": {
            "x": {"field": "e", "type": "quantitative", "title": "Energy (eV)", "scale": {"domain": [-2, 18], "nice": false, "zero": false}, "axis": {"values": [-2,0,2,4,6,8,10,12,14,16,18], "format": "d"}},
            "y": {"field": "v", "type": "quantitative", "title": "Simulated EELS intensity (a.u.)", "scale": {"domain": [0, 0.3], "nice": false}, "axis": {"values": [0,0.05,0.1,0.15,0.2,0.25,0.3], "format": "~g"}},
            "color": {"field": "s", "type": "nominal", "scale": {"domain": ["experiment", "Z* approx."], "range": ["#000000", "#8b2131"]}, "legend": {"title": null, "orient": "none", "legendX": 328.7, "legendY": 9, "rowPadding": 14.5, "labelFontSize": 14, "symbolSize": 3025}},
            "strokeDash": {"field": "s", "type": "nominal", "scale": {"domain": ["experiment", "Z* approx."], "range": [[1,0],[1,0]]}, "legend": {"title": null, "orient": "none", "legendX": 328.7, "legendY": 9, "rowPadding": 14.5, "labelFontSize": 14, "symbolSize": 3025}},
            "strokeWidth": {"field": "s", "type": "nominal", "scale": {"domain": ["experiment", "Z* approx."], "range": [2.5, 1.6]}, "legend": {"title": null, "orient": "none", "legendX": 328.7, "legendY": 9, "rowPadding": 14.5, "labelFontSize": 14, "symbolSize": 3025}}
          }
        },
        {
          "data": {"values": [{"t": "b"}]},
          "mark": {"type": "text", "font": "Liberation Sans", "fontSize": 17, "align": "left", "baseline": "alphabetic", "color": "#111"},
          "encoding": {
            "x": {"datum": -1.55, "type": "quantitative", "title": "Energy (eV)", "axis": {"values": [-2,0,2,4,6,8,10,12,14,16,18], "format": "d"}},
            "y": {"datum": 0.263, "type": "quantitative", "title": "Simulated EELS intensity (a.u.)", "axis": {"values": [0,0.05,0.1,0.15,0.2,0.25,0.3], "format": "~g"}},
            "text": {"field": "t"}
          }
        },
        {
          "data": {"values": [{"t": "VN N-K"}]},
          "mark": {"type": "text", "font": "Liberation Serif", "fontSize": 24, "align": "right", "baseline": "alphabetic", "color": "#111"},
          "encoding": {
            "x": {"datum": 16.08, "type": "quantitative", "title": "Energy (eV)", "axis": {"values": [-2,0,2,4,6,8,10,12,14,16,18], "format": "d"}},
            "y": {"datum": 0.256, "type": "quantitative", "title": "Simulated EELS intensity (a.u.)", "axis": {"values": [0,0.05,0.1,0.15,0.2,0.25,0.3], "format": "~g"}},
            "text": {"field": "t"}
          }
        }
      ]
    },
    {
      "width": 311, "height": 201,
      "layer": [
        {
          "data": {"name": "c"},
          "transform": [{"filter": "datum.s !== 'experiment'"}],
          "mark": {"type": "line", "interpolate": "monotone"},
          "encoding": {
            "x": {"field": "e", "type": "quantitative", "title": "Energy (eV)", "scale": {"domain": [-2, 18], "nice": false, "zero": false}, "axis": {"values": [-2,0,2,4,6,8,10,12,14,16,18], "format": "d"}},
            "y": {"field": "v", "type": "quantitative", "title": "Simulated EELS intensity (a.u.)", "scale": {"domain": [0, 0.3], "nice": false}, "axis": {"values": [0,0.05,0.1,0.15,0.2,0.25,0.3], "format": "~g"}},
            "color": {"field": "s", "type": "nominal", "scale": {"domain": ["experiment", "X=1.0 Z* approx.", "X=0.875 Z*approx."], "range": ["#000000", "#7a1a2a", "#2b5b8e"]}, "legend": {"title": null, "orient": "none", "legendX": -214, "legendY": 7, "rowPadding": 12.5, "labelFontSize": 13.5, "symbolSize": 3136}},
            "strokeDash": {"field": "s", "type": "nominal", "scale": {"domain": ["experiment", "X=1.0 Z* approx.", "X=0.875 Z*approx."], "range": [[1,0],[4,2,1.5,2],[1,0]]}, "legend": {"title": null, "orient": "none", "legendX": -214, "legendY": 7, "rowPadding": 12.5, "labelFontSize": 13.5, "symbolSize": 3136}},
            "strokeWidth": {"field": "s", "type": "nominal", "scale": {"domain": ["experiment", "X=1.0 Z* approx.", "X=0.875 Z*approx."], "range": [2.5, 1.6, 1.6]}, "legend": {"title": null, "orient": "none", "legendX": -214, "legendY": 7, "rowPadding": 12.5, "labelFontSize": 13.5, "symbolSize": 3136}}
          }
        },
        {
          "data": {"name": "c"},
          "transform": [{"filter": "datum.s === 'experiment'"}],
          "mark": {"type": "line", "interpolate": "linear"},
          "encoding": {
            "x": {"field": "e", "type": "quantitative", "title": "Energy (eV)", "scale": {"domain": [-2, 18], "nice": false, "zero": false}, "axis": {"values": [-2,0,2,4,6,8,10,12,14,16,18], "format": "d"}},
            "y": {"field": "v", "type": "quantitative", "title": "Simulated EELS intensity (a.u.)", "scale": {"domain": [0, 0.3], "nice": false}, "axis": {"values": [0,0.05,0.1,0.15,0.2,0.25,0.3], "format": "~g"}},
            "color": {"field": "s", "type": "nominal", "scale": {"domain": ["experiment", "X=1.0 Z* approx.", "X=0.875 Z*approx."], "range": ["#000000", "#7a1a2a", "#2b5b8e"]}, "legend": {"title": null, "orient": "none", "legendX": -214, "legendY": 7, "rowPadding": 12.5, "labelFontSize": 13.5, "symbolSize": 3136}},
            "strokeDash": {"field": "s", "type": "nominal", "scale": {"domain": ["experiment", "X=1.0 Z* approx.", "X=0.875 Z*approx."], "range": [[1,0],[4,2,1.5,2],[1,0]]}, "legend": {"title": null, "orient": "none", "legendX": -214, "legendY": 7, "rowPadding": 12.5, "labelFontSize": 13.5, "symbolSize": 3136}},
            "strokeWidth": {"field": "s", "type": "nominal", "scale": {"domain": ["experiment", "X=1.0 Z* approx.", "X=0.875 Z*approx."], "range": [2.5, 1.6, 1.6]}, "legend": {"title": null, "orient": "none", "legendX": -214, "legendY": 7, "rowPadding": 12.5, "labelFontSize": 13.5, "symbolSize": 3136}}
          }
        },
        {
          "data": {"values": [{"t": "c"}]},
          "mark": {"type": "text", "font": "Liberation Sans", "fontSize": 17, "align": "left", "baseline": "alphabetic", "color": "#111"},
          "encoding": {
            "x": {"datum": -1.25, "type": "quantitative", "title": "Energy (eV)", "axis": {"values": [-2,0,2,4,6,8,10,12,14,16,18], "format": "d"}},
            "y": {"datum": 0.259, "type": "quantitative", "title": "Simulated EELS intensity (a.u.)", "axis": {"values": [0,0.05,0.1,0.15,0.2,0.25,0.3], "format": "~g"}},
            "text": {"field": "t"}
          }
        },
        {
          "data": {"values": [{"t": "VN"}]},
          "mark": {"type": "text", "font": "Liberation Serif", "fontSize": 24, "align": "right", "baseline": "alphabetic", "color": "#111"},
          "encoding": {
            "x": {"datum": 12.9, "type": "quantitative", "title": "Energy (eV)", "axis": {"values": [-2,0,2,4,6,8,10,12,14,16,18], "format": "d"}},
            "y": {"datum": 0.256, "type": "quantitative", "title": "Simulated EELS intensity (a.u.)", "axis": {"values": [0,0.05,0.1,0.15,0.2,0.25,0.3], "format": "~g"}},
            "text": {"field": "t"}
          }
        },
        {
          "data": {"values": [{"t": "X"}]},
          "mark": {"type": "text", "font": "Liberation Serif", "fontSize": 13, "align": "left", "baseline": "alphabetic", "color": "#111"},
          "encoding": {
            "x": {"datum": 12.93, "type": "quantitative", "title": "Energy (eV)", "axis": {"values": [-2,0,2,4,6,8,10,12,14,16,18], "format": "d"}},
            "y": {"datum": 0.2497, "type": "quantitative", "title": "Simulated EELS intensity (a.u.)", "axis": {"values": [0,0.05,0.1,0.15,0.2,0.25,0.3], "format": "~g"}},
            "text": {"field": "t"}
          }
        },
        {
          "data": {"values": [{"t": "N-K"}]},
          "mark": {"type": "text", "font": "Liberation Serif", "fontSize": 24, "align": "left", "baseline": "alphabetic", "color": "#111"},
          "encoding": {
            "x": {"datum": 13.88, "type": "quantitative", "title": "Energy (eV)", "axis": {"values": [-2,0,2,4,6,8,10,12,14,16,18], "format": "d"}},
            "y": {"datum": 0.256, "type": "quantitative", "title": "Simulated EELS intensity (a.u.)", "axis": {"values": [0,0.05,0.1,0.15,0.2,0.25,0.3], "format": "~g"}},
            "text": {"field": "t"}
          }
        }
      ]
    },
    {
      "width": 311, "height": 201,
      "layer": [
        {
          "data": {"name": "d"},
          "transform": [{"filter": "datum.s !== 'experiment'"}],
          "mark": {"type": "line", "interpolate": "monotone"},
          "encoding": {
            "x": {"field": "e", "type": "quantitative", "title": "Energy (eV)", "scale": {"domain": [-2, 18], "nice": false, "zero": false}, "axis": {"values": [-2,0,2,4,6,8,10,12,14,16,18], "format": "d"}},
            "y": {"field": "v", "type": "quantitative", "title": "Simulated EELS intensity (a.u.)", "scale": {"domain": [0, 0.3], "nice": false}, "axis": {"values": [0,0.05,0.1,0.15,0.2,0.25,0.3], "format": "~g"}},
            "color": {"field": "s", "type": "nominal", "scale": {"domain": ["experiment", "interface VN", "iInterface TiN", "interior VN", "interior TiN"], "range": ["#000000", "#1f63b5", "#e8191f", "#3a7fd0", "#e0404a"]}, "legend": {"title": null, "orient": "none", "legendX": 327.7, "legendY": 7, "rowPadding": 12.9, "labelFontSize": 13, "symbolSize": 3249}},
            "strokeDash": {"field": "s", "type": "nominal", "scale": {"domain": ["experiment", "interface VN", "iInterface TiN", "interior VN", "interior TiN"], "range": [[8,4],[1,0],[1,0],[1.5,1.5],[1.5,1.5]]}, "legend": {"title": null, "orient": "none", "legendX": 327.7, "legendY": 7, "rowPadding": 12.9, "labelFontSize": 13, "symbolSize": 3249}},
            "strokeWidth": {"field": "s", "type": "nominal", "scale": {"domain": ["experiment", "interface VN", "iInterface TiN", "interior VN", "interior TiN"], "range": [3.5, 2, 2.6, 1.5, 1.5]}, "legend": {"title": null, "orient": "none", "legendX": 327.7, "legendY": 7, "rowPadding": 12.9, "labelFontSize": 13, "symbolSize": 3249}}
          }
        },
        {
          "data": {"name": "d"},
          "transform": [{"filter": "datum.s === 'experiment'"}],
          "mark": {"type": "line", "interpolate": "monotone"},
          "encoding": {
            "x": {"field": "e", "type": "quantitative", "title": "Energy (eV)", "scale": {"domain": [-2, 18], "nice": false, "zero": false}, "axis": {"values": [-2,0,2,4,6,8,10,12,14,16,18], "format": "d"}},
            "y": {"field": "v", "type": "quantitative", "title": "Simulated EELS intensity (a.u.)", "scale": {"domain": [0, 0.3], "nice": false}, "axis": {"values": [0,0.05,0.1,0.15,0.2,0.25,0.3], "format": "~g"}},
            "color": {"field": "s", "type": "nominal", "scale": {"domain": ["experiment", "interface VN", "iInterface TiN", "interior VN", "interior TiN"], "range": ["#000000", "#1f63b5", "#e8191f", "#3a7fd0", "#e0404a"]}, "legend": {"title": null, "orient": "none", "legendX": 327.7, "legendY": 7, "rowPadding": 12.9, "labelFontSize": 13, "symbolSize": 3249}},
            "strokeDash": {"field": "s", "type": "nominal", "scale": {"domain": ["experiment", "interface VN", "iInterface TiN", "interior VN", "interior TiN"], "range": [[8,4],[1,0],[1,0],[1.5,1.5],[1.5,1.5]]}, "legend": {"title": null, "orient": "none", "legendX": 327.7, "legendY": 7, "rowPadding": 12.9, "labelFontSize": 13, "symbolSize": 3249}},
            "strokeWidth": {"field": "s", "type": "nominal", "scale": {"domain": ["experiment", "interface VN", "iInterface TiN", "interior VN", "interior TiN"], "range": [3.5, 2, 2.6, 1.5, 1.5]}, "legend": {"title": null, "orient": "none", "legendX": 327.7, "legendY": 7, "rowPadding": 12.9, "labelFontSize": 13, "symbolSize": 3249}}
          }
        },
        {
          "data": {"values": [{"t": "d"}]},
          "mark": {"type": "text", "font": "Liberation Sans", "fontSize": 17, "align": "left", "baseline": "alphabetic", "color": "#111"},
          "encoding": {
            "x": {"datum": -1.5, "type": "quantitative", "title": "Energy (eV)", "axis": {"values": [-2,0,2,4,6,8,10,12,14,16,18], "format": "d"}},
            "y": {"datum": 0.254, "type": "quantitative", "title": "Simulated EELS intensity (a.u.)", "axis": {"values": [0,0.05,0.1,0.15,0.2,0.25,0.3], "format": "~g"}},
            "text": {"field": "t"}
          }
        },
        {
          "data": {"values": [{"t": "VN/TiN N-K"}]},
          "mark": {"type": "text", "font": "Liberation Serif", "fontSize": 24, "align": "right", "baseline": "alphabetic", "color": "#111"},
          "encoding": {
            "x": {"datum": 16.13, "type": "quantitative", "title": "Energy (eV)", "axis": {"values": [-2,0,2,4,6,8,10,12,14,16,18], "format": "d"}},
            "y": {"datum": 0.256, "type": "quantitative", "title": "Simulated EELS intensity (a.u.)", "axis": {"values": [0,0.05,0.1,0.15,0.2,0.25,0.3], "format": "~g"}},
            "text": {"field": "t"}
          }
        }
      ]
    }
  ]
}
